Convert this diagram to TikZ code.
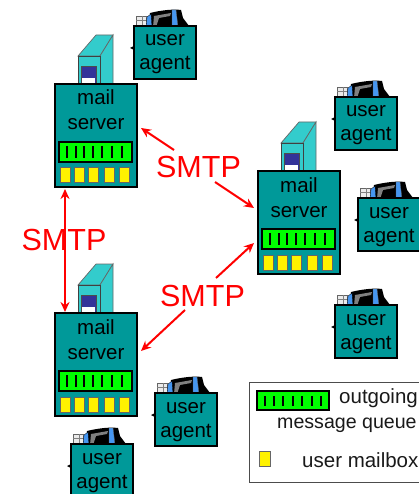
\documentclass[tikz,border=0pt]{standalone}
\usepackage{fontspec}
\setmainfont{Liberation Sans}
\usetikzlibrary{arrows.meta}
\definecolor{teal1}{RGB}{0,153,153}
\definecolor{tower}{RGB}{51,204,204}
\definecolor{navy1}{RGB}{51,51,153}
\definecolor{qgreen}{RGB}{0,255,0}
\definecolor{sky1}{RGB}{70,150,240}
\tikzset{
  x=1pt,y=-1pt,
  boxed/.style={draw=black,line width=1.6pt,fill=teal1,inner sep=0pt,outer sep=0pt},
  boxlabel/.style={inner sep=0pt,anchor=base,font=\fontsize{20.5}{24}\selectfont,text=black},
  smtp/.style={red,line width=2pt,-{Stealth[length=10pt,width=9pt]}},
  smtpb/.style={red,line width=2pt,{Stealth[length=10pt,width=9pt]}-{Stealth[length=10pt,width=9pt]}},
  smtplabel/.style={text=red,anchor=base,font=\fontsize{30.5}{32}\selectfont,inner sep=0pt},
  mailslot/.style={draw=black!60,line width=1pt,fill=yellow},
  queue/.style={draw=black,line width=1.6pt,fill=qgreen},
  legendtext/.style={inner sep=0pt,anchor=base west,font=\fontsize{20.5}{22}\selectfont,text=black!90},
}
% server: #1,#2 = top-left of the box, #3 = name
\newcommand\mailsrv[3]{%
\begin{scope}[shift={(#1,#2)}]
  \fill[tower,draw=black!60,line width=.7pt] (23,-28) -- (45,-28) -- (58,-49) -- (41,-49) -- cycle;
  \fill[tower,draw=black!60,line width=.7pt] (45,-28) -- (58,-49) -- (58,0) -- (45,0) -- cycle;
  \fill[tower,draw=black!75,line width=.7pt] (23,-28) rectangle (45,0);
  \fill[navy1,draw=black!70,line width=.7pt] (26,-18) rectangle (41,0);
  \fill[white] (27,-6) rectangle (40,0);
  \node[boxed,minimum width=82pt,minimum height=103pt,anchor=north west] (#3) at (0,0) {};
  \node[boxlabel] at (41,21) {mail};
  \node[boxlabel] at (41,46) {server};
  \draw[queue] (4,58) rectangle (77,78);
  \foreach \q in {12,21,29,38,47,57,67}{\draw[black,line width=1.2pt] (\q,62) -- (\q,74);}
  \foreach \q in {5,19,33,49,64}{\draw[mailslot] (\q,84) rectangle +(10.5,15);}
\end{scope}}
% agent: #1,#2 = top-left of the box, #3 = name
\newcommand\uagent[3]{%
\begin{scope}[shift={(#1,#2)}]
  \fill[black!8,draw=black!60,line width=.5pt] (2,-10) rectangle (12,1);
  \draw[black!50,line width=.4pt] (8,-10) -- (8,1) (2,-6) -- (12,-6);
  \fill[tower!40] (47,-9) -- (56,1) -- (44,1) -- cycle;
  \fill[black] (16,-13) .. controls (28,-16) and (40,-17) .. (47,-16) -- (49,-8) -- (55,0) -- (15,1) -- cycle;
  \fill[sky1,draw=black,line width=.3pt] (13,-9) -- (17,-12) -- (18,1) -- (12,1) -- cycle;
  \fill[black!50] (20,-10) -- (37,-13) -- (36,-10) -- (25,-8) -- (22,1) -- (19,1) -- cycle;
  \fill[sky1,draw=black!60,line width=.3pt] (38,-16) -- (42,-16) -- (44,1) -- (38,1) -- cycle;
  \node[boxed,minimum width=62pt,minimum height=53pt,anchor=north west] (#3) at (0,0) {};
  \fill[black] (-4,22) -- (0,20) -- (0,24) -- cycle;
  \node[boxlabel] at (31,20) {user};
  \node[boxlabel] at (31,44) {agent};
\end{scope}}
\begin{document}
\begin{tikzpicture}
\useasboundingbox (0,0) rectangle (419,494);
\mailsrv{55}{84}{srvA}
\mailsrv{258}{171}{srvB}
\mailsrv{55}{313}{srvC}
\uagent{134}{26}{ua1}
\uagent{335}{97}{ua2}
\uagent{358}{198}{ua3}
\uagent{335}{305}{ua4}
\uagent{155}{393}{ua5}
\uagent{71}{444}{ua6}
% labels
\node[smtplabel] (s1) at (198.5,178) {SMTP};
\node[smtplabel] (s2) at (64,250) {SMTP};
\node[smtplabel] (s3) at (202.5,306) {SMTP};
% connectors
\coordinate (a1) at (174,150);
\coordinate (a2) at (141,128);
\coordinate (b1) at (215,182);
\coordinate (b2) at (254,208);
\coordinate (c1) at (216,278);
\coordinate (c2) at (254,243);
\coordinate (d1) at (185,310);
\coordinate (d2) at (141,351);
\draw[smtp] (a1) -- (a2);
\draw[smtp] (b1) -- (b2);
\draw[smtp] (c1) -- (c2);
\draw[smtp] (d1) -- (d2);
\coordinate (e1) at (65,189);
\coordinate (e2) at (65,312);
\draw[smtpb] (e1) -- (e2);
% legend
\draw[draw=black!70,line width=.9pt] (249,382) rectangle (430,482);
\draw[queue] (257,391) rectangle (329,410);
\foreach \q in {265,274,283,293,302,312,321}{\draw[black,line width=1.2pt] (\q,396) -- (\q,406);}
\node[legendtext] (l1) at (339,403) {outgoing};
\node[legendtext,font=\fontsize{19.6}{22}\selectfont] (l2) at (277,428) {message queue};
\draw[mailslot] (259,451) rectangle (270,466);
\node[legendtext] (l3) at (302,467) {user mailbox};
\end{tikzpicture}
\end{document}
